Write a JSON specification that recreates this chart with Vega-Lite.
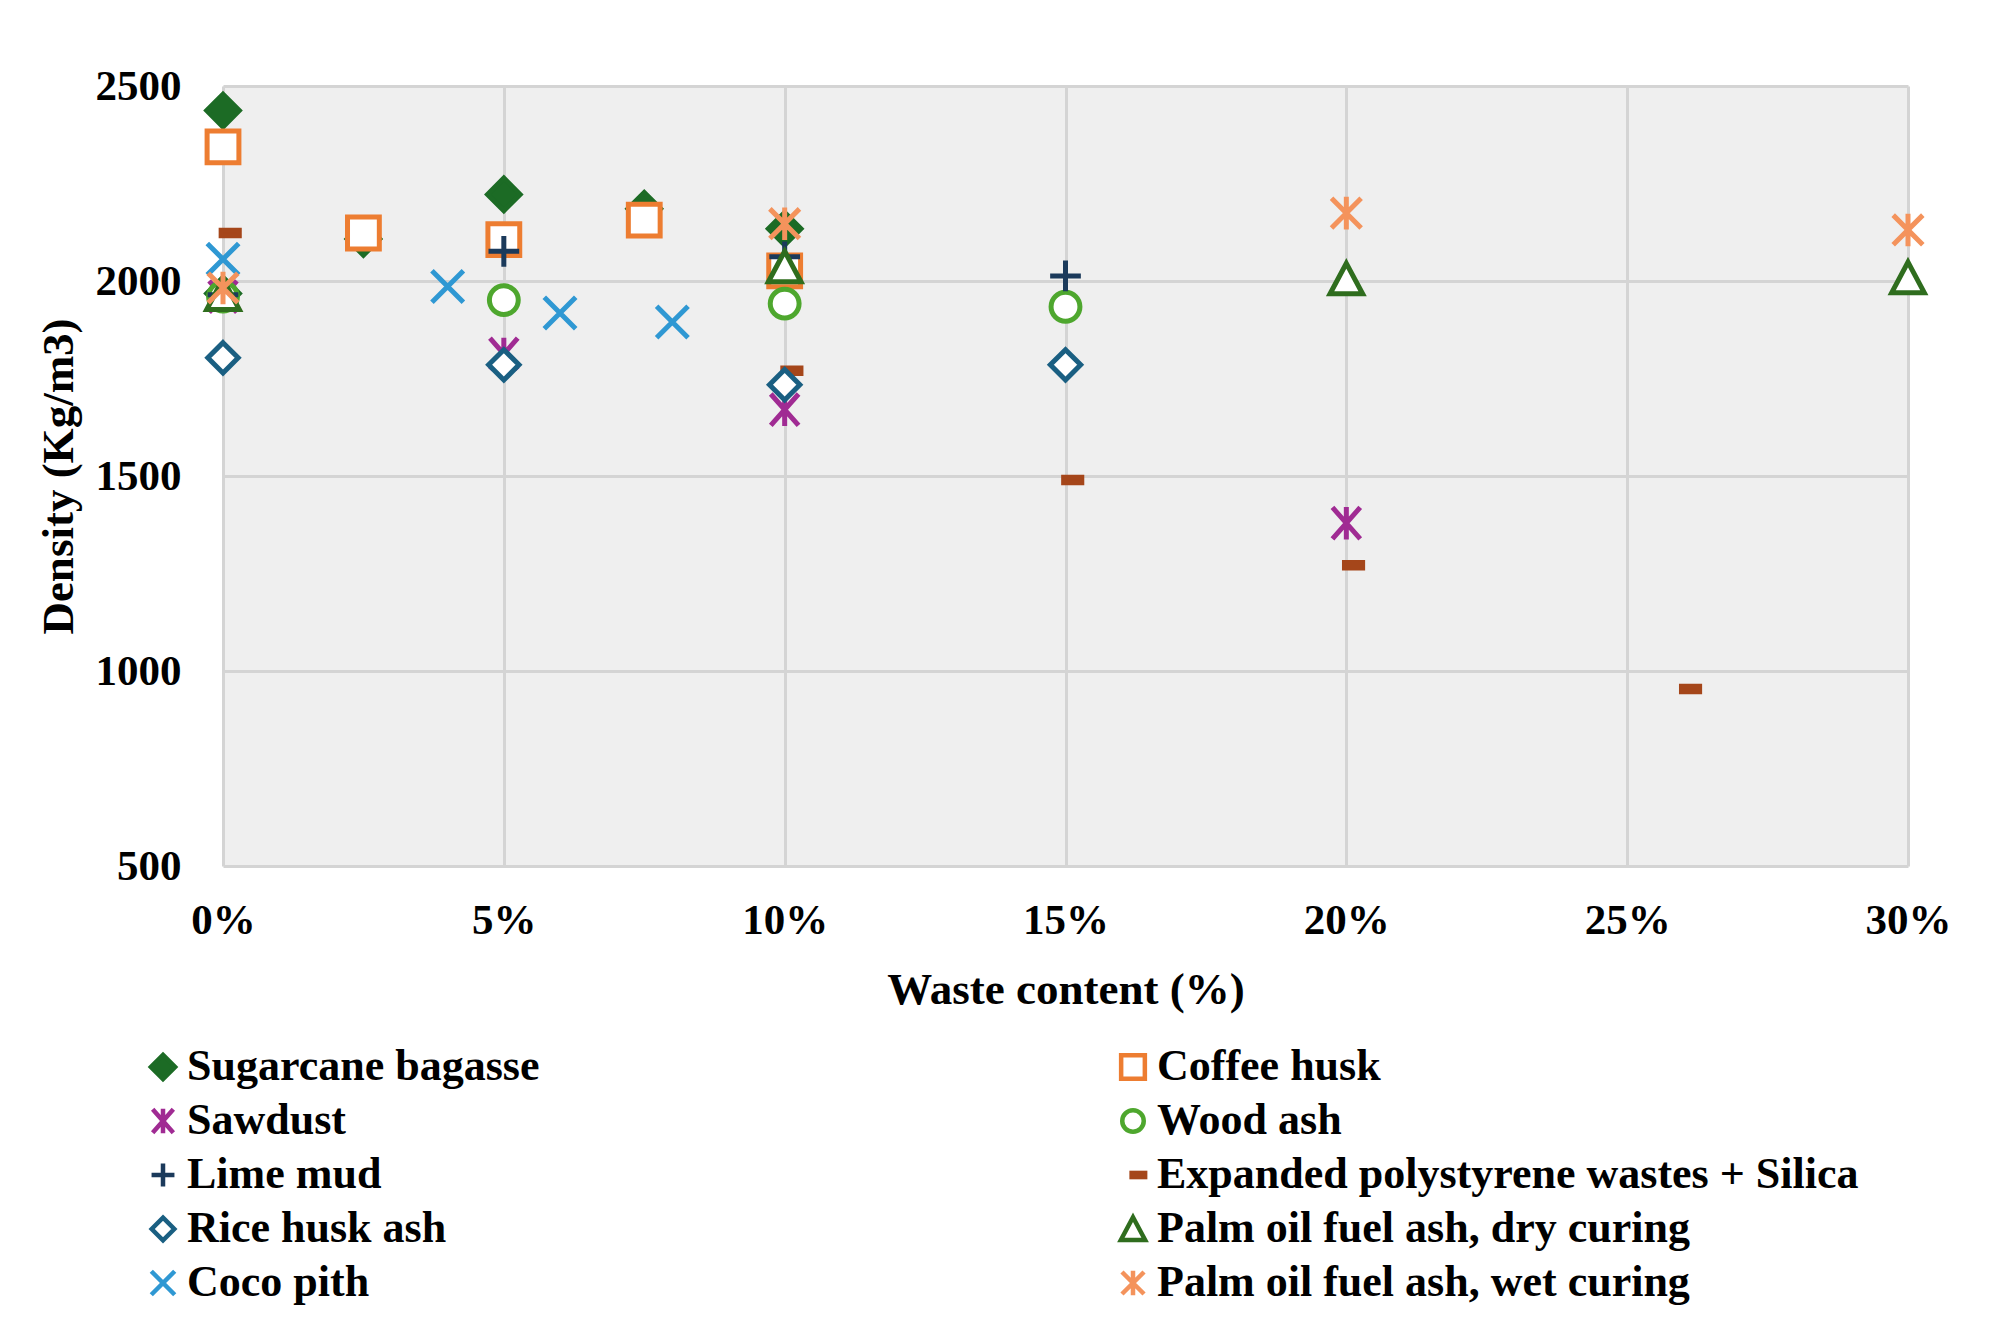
{
  "$schema": "https://vega.github.io/schema/vega-lite/v6.json",
  "width": 1685,
  "height": 780,
  "autosize": {"type": "none"},
  "padding": {"left": 223, "top": 86, "right": 93, "bottom": 474},
  "background": "white",
  "config": {
    "view": {"fill": "#efefef", "stroke": null},
    "font": "Liberation Serif",
    "axis": {
      "labelFont": "Liberation Serif",
      "labelFontWeight": "bold",
      "labelFontSize": 43,
      "labelColor": "#000000",
      "titleFont": "Liberation Serif",
      "titleFontWeight": "bold",
      "titleFontSize": 45,
      "titleColor": "#000000",
      "domain": false,
      "ticks": false,
      "tickSize": 0,
      "gridColor": "#d4d4d4",
      "gridWidth": 3,
      "gridOpacity": 1
    },
    "legend": {
      "labelFont": "Liberation Serif",
      "labelFontWeight": "bold",
      "labelFontSize": 44,
      "labelColor": "#000000",
      "labelLimit": 1000,
      "labelOffset": 2,
      "symbolSize": 760,
      "symbolStrokeWidth": 4.5,
      "padding": 0
    }
  },
  "data": {
    "values": [
      {"material": "Sugarcane bagasse", "waste": 0, "density": 2437},
      {"material": "Sugarcane bagasse", "waste": 0, "density": 1968},
      {"material": "Sugarcane bagasse", "waste": 0.025, "density": 2108},
      {"material": "Sugarcane bagasse", "waste": 0.05, "density": 2222},
      {"material": "Sugarcane bagasse", "waste": 0.075, "density": 2185},
      {"material": "Sugarcane bagasse", "waste": 0.1, "density": 2134},
      {"material": "Coffee husk", "waste": 0, "density": 2344},
      {"material": "Coffee husk", "waste": 0.025, "density": 2123},
      {"material": "Coffee husk", "waste": 0.05, "density": 2106},
      {"material": "Coffee husk", "waste": 0.075, "density": 2156},
      {"material": "Coffee husk", "waste": 0.1, "density": 2026},
      {"material": "Sawdust", "waste": 0, "density": 1960},
      {"material": "Sawdust", "waste": 0.05, "density": 1813},
      {"material": "Sawdust", "waste": 0.1, "density": 1670},
      {"material": "Sawdust", "waste": 0.2, "density": 1379},
      {"material": "Wood ash", "waste": 0, "density": 1960},
      {"material": "Wood ash", "waste": 0.05, "density": 1951},
      {"material": "Wood ash", "waste": 0.1, "density": 1942},
      {"material": "Wood ash", "waste": 0.15, "density": 1934},
      {"material": "Lime mud", "waste": 0, "density": 1965},
      {"material": "Lime mud", "waste": 0.05, "density": 2076},
      {"material": "Lime mud", "waste": 0.1, "density": 2062},
      {"material": "Lime mud", "waste": 0.15, "density": 2013},
      {"material": "Expanded polystyrene wastes + Silica", "waste": 0, "density": 2123},
      {"material": "Expanded polystyrene wastes + Silica", "waste": 0.1, "density": 1770},
      {"material": "Expanded polystyrene wastes + Silica", "waste": 0.15, "density": 1490},
      {"material": "Expanded polystyrene wastes + Silica", "waste": 0.2, "density": 1271},
      {"material": "Expanded polystyrene wastes + Silica", "waste": 0.26, "density": 954},
      {"material": "Rice husk ash", "waste": 0, "density": 1803},
      {"material": "Rice husk ash", "waste": 0.05, "density": 1785},
      {"material": "Rice husk ash", "waste": 0.1, "density": 1734},
      {"material": "Rice husk ash", "waste": 0.15, "density": 1785},
      {"material": "Palm oil fuel ash, dry curing", "waste": 0, "density": 1965},
      {"material": "Palm oil fuel ash, dry curing", "waste": 0.1, "density": 2036},
      {"material": "Palm oil fuel ash, dry curing", "waste": 0.2, "density": 2005},
      {"material": "Palm oil fuel ash, dry curing", "waste": 0.3, "density": 2008},
      {"material": "Coco pith", "waste": 0, "density": 2056},
      {"material": "Coco pith", "waste": 0.04, "density": 1986},
      {"material": "Coco pith", "waste": 0.06, "density": 1918},
      {"material": "Coco pith", "waste": 0.08, "density": 1895},
      {"material": "Palm oil fuel ash, wet curing", "waste": 0, "density": 1982},
      {"material": "Palm oil fuel ash, wet curing", "waste": 0.1, "density": 2147},
      {"material": "Palm oil fuel ash, wet curing", "waste": 0.2, "density": 2174},
      {"material": "Palm oil fuel ash, wet curing", "waste": 0.3, "density": 2131}
    ]
  },
  "mark": {"type": "point", "size": 1369, "strokeWidth": 5, "opacity": 1, "filled": true},
  "encoding": {
    "x": {
      "field": "waste",
      "type": "quantitative",
      "scale": {"domain": [0, 0.3], "nice": false, "zero": false},
      "axis": {
        "format": ".0%",
        "values": [0, 0.05, 0.1, 0.15, 0.2, 0.25, 0.3],
        "title": "Waste content (%)",
        "labelPadding": 33,
        "titlePadding": 25,
        "labelFlush": false,
        "labelOverlap": false
      }
    },
    "y": {
      "field": "density",
      "type": "quantitative",
      "scale": {"domain": [500, 2500], "nice": false, "zero": false},
      "axis": {
        "format": "d",
        "values": [500, 1000, 1500, 2000, 2500],
        "title": "Density (Kg/m3)",
        "labelPadding": 42,
        "titlePadding": 14,
        "labelOverlap": false
      }
    },
    "shape": {
      "field": "material",
      "type": "nominal",
      "sort": null,
      "scale": {
        "domain": ["Sugarcane bagasse", "Sawdust", "Lime mud", "Rice husk ash", "Coco pith", "Coffee husk", "Wood ash", "Expanded polystyrene wastes + Silica", "Palm oil fuel ash, dry curing", "Palm oil fuel ash, wet curing"],
        "range": [
          "M0,-0.88L0.88,0L0,0.88L-0.88,0Z",
          "M-0.75,-0.85L0.75,0.85M0.75,-0.85L-0.75,0.85M0,-0.88V0.88",
          "M-0.83,0H0.83M0,-0.83V0.83",
          "M0,-0.82L0.82,0L0,0.82L-0.82,0Z",
          "M-0.85,-0.85L0.85,0.85M0.85,-0.85L-0.85,0.85",
          "M-0.86,-0.86H0.86V0.86H-0.86Z",
          "M-0.78,0A0.78,0.78 0 1,1 0.78,0A0.78,0.78 0 1,1 -0.78,0Z",
          "M-0.1,-0.15H0.88V0.15H-0.1Z",
          "M0,-0.85L0.88,0.8H-0.88Z",
          "M-0.8,-0.8L0.8,0.8M0.8,-0.8L-0.8,0.8M0,-0.88V0.88"
        ]
      },
      "legend": {"title": null, "orient": "none", "legendX": -82, "legendY": 959, "columns": 2, "columnPadding": 571, "rowPadding": 10, "direction": "vertical"}
    },
    "stroke": {
      "field": "material",
      "type": "nominal",
      "sort": null,
      "scale": {
        "domain": ["Sugarcane bagasse", "Sawdust", "Lime mud", "Rice husk ash", "Coco pith", "Coffee husk", "Wood ash", "Expanded polystyrene wastes + Silica", "Palm oil fuel ash, dry curing", "Palm oil fuel ash, wet curing"],
        "range": ["#1c6b25", "#a02b93", "#1b3a5b", "#1a5f82", "#2f98d3", "#ed7d31", "#4ea72e", "#a5461a", "#2f6d1e", "#f4935c"]
      },
      "legend": {"title": null, "orient": "none", "legendX": -82, "legendY": 959, "columns": 2, "columnPadding": 571, "rowPadding": 10, "direction": "vertical"}
    },
    "fill": {
      "field": "material",
      "type": "nominal",
      "sort": null,
      "scale": {
        "domain": ["Sugarcane bagasse", "Sawdust", "Lime mud", "Rice husk ash", "Coco pith", "Coffee husk", "Wood ash", "Expanded polystyrene wastes + Silica", "Palm oil fuel ash, dry curing", "Palm oil fuel ash, wet curing"],
        "range": ["#1c6b25", "transparent", "transparent", "#ffffff", "transparent", "#ffffff", "#ffffff", "#a5461a", "#ffffff", "transparent"]
      },
      "legend": {"title": null, "orient": "none", "legendX": -82, "legendY": 959, "columns": 2, "columnPadding": 571, "rowPadding": 10, "direction": "vertical"}
    }
  }
}
